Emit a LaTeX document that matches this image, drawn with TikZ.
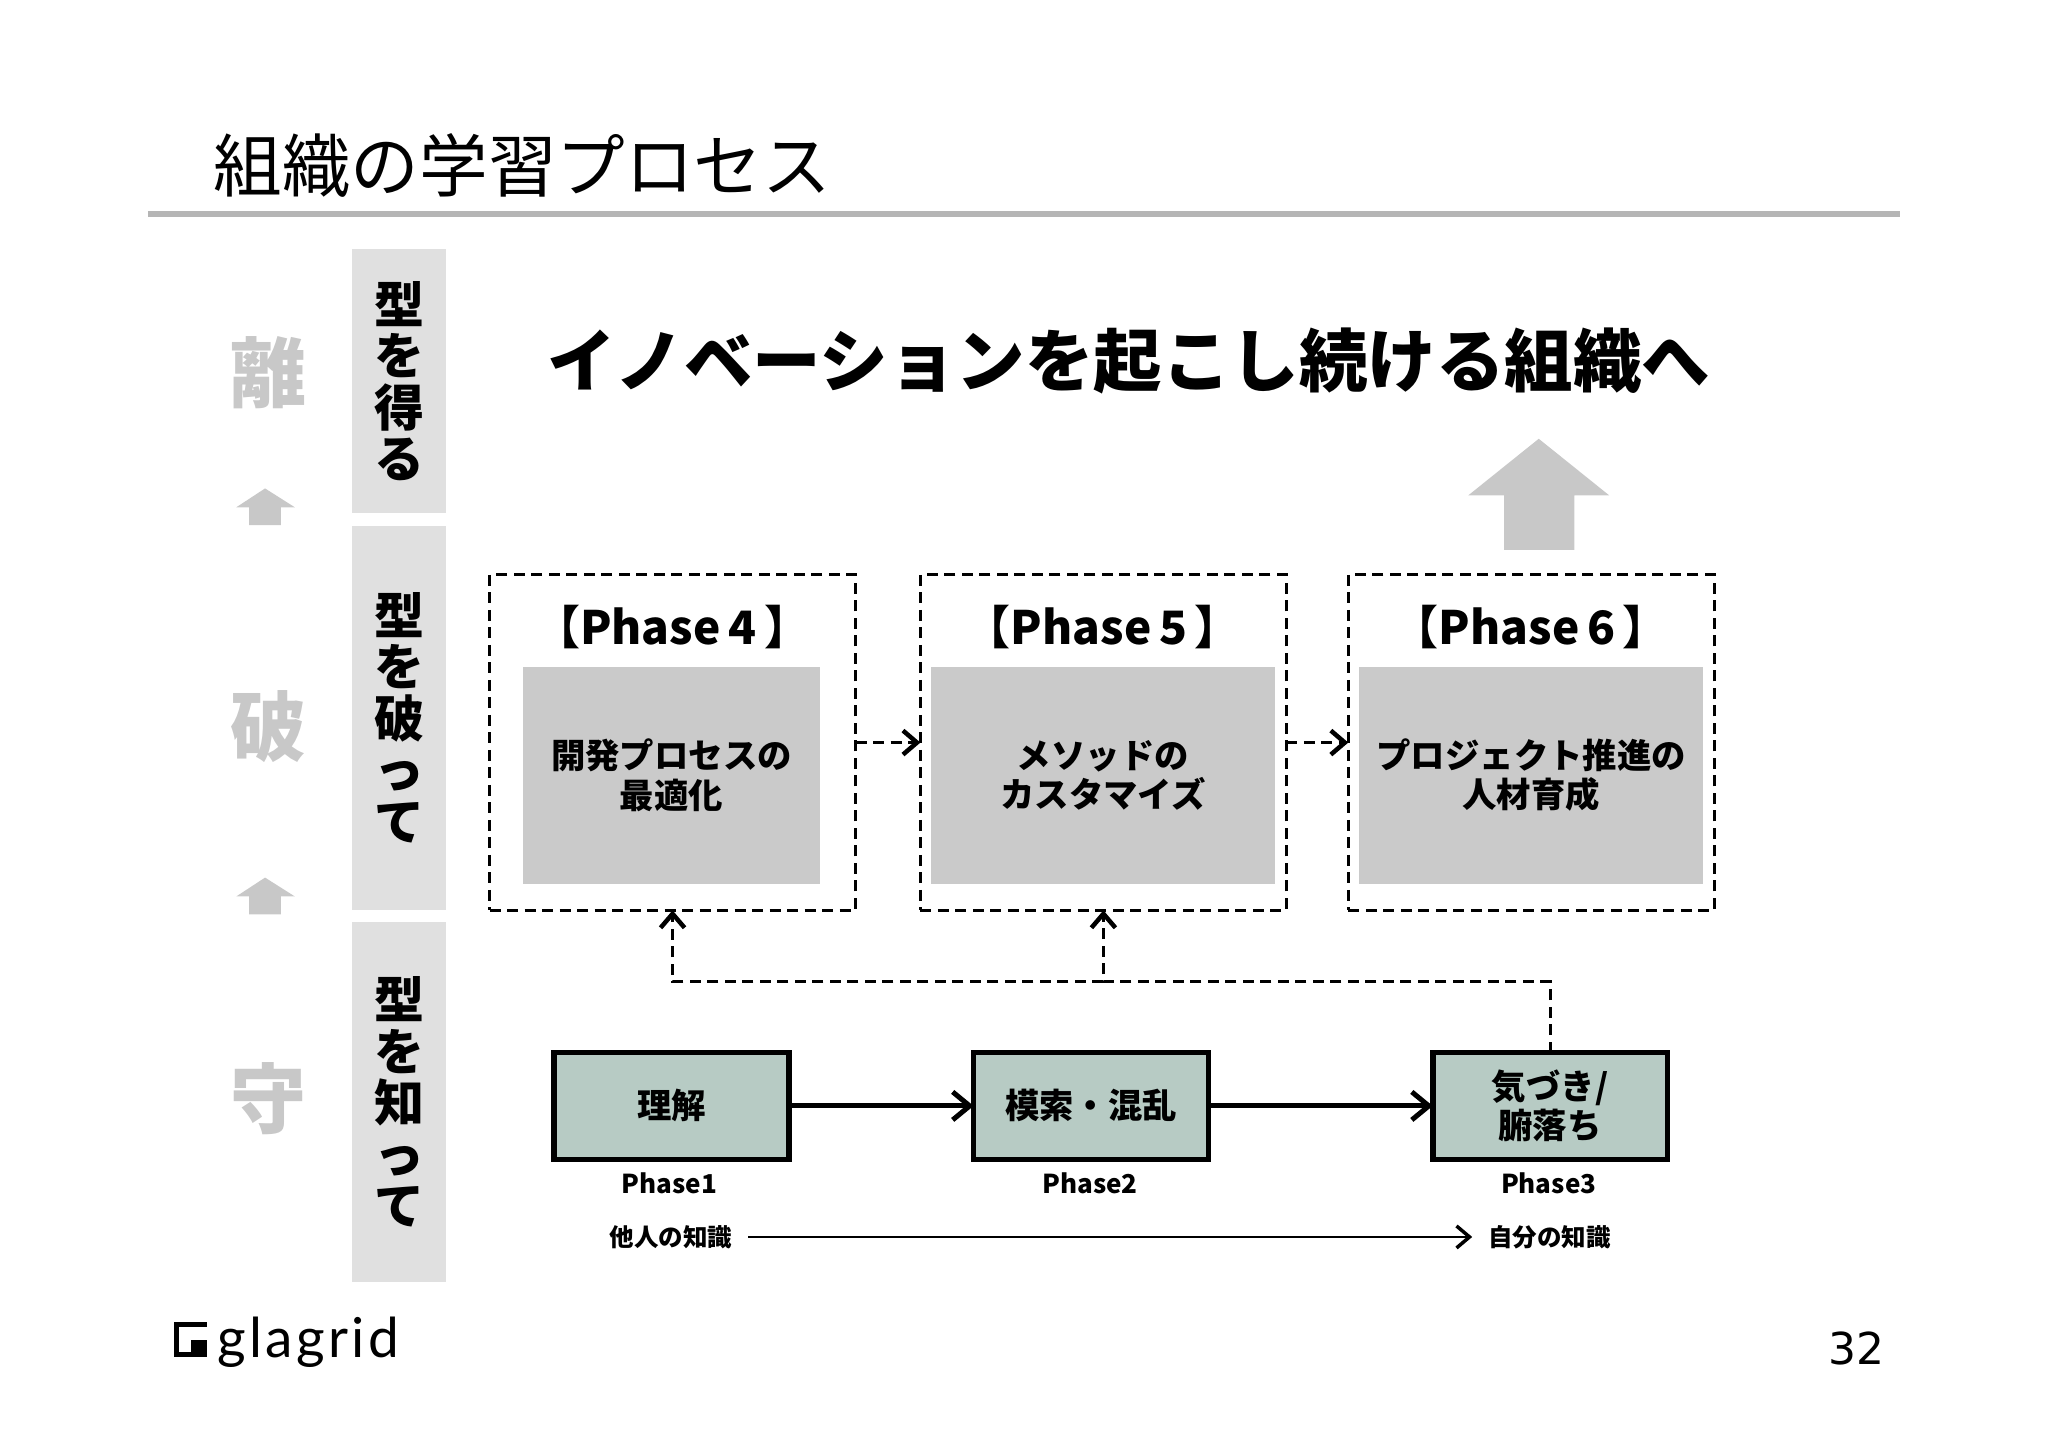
\documentclass[tikz,border=0pt]{standalone}
\usepackage{fontspec}
\setmainfont{Noto Sans CJK JP}
\newfontfamily\numfont{DejaVu Sans}
\newfontfamily\logofont[LetterSpace=6]{Lato}
\usetikzlibrary{arrows.meta}
\definecolor{sidegray}{HTML}{E0E0E0}
\definecolor{boxgray}{HTML}{CACACA}
\definecolor{mintgray}{HTML}{B7CBC4}
\definecolor{rulegray}{HTML}{B5B5B5}
\definecolor{markgray}{HTML}{C8C8C8}
\tikzset{
  side/.style={fill=sidegray,inner sep=0pt,outer sep=0pt,minimum width=94pt,align=center,font=\bfseries\fontsize{50}{51.5}\selectfont},
  stage/.style={text=markgray,inner sep=0pt,font=\bfseries\fontsize{76}{76}\selectfont},
  dashbox/.style={draw,line width=3pt,dash pattern=on 11pt off 6.5pt,inner sep=0pt,outer sep=0pt,minimum height=335.5pt},
  graybox/.style={fill=boxgray,inner sep=0pt,outer sep=0pt,minimum height=217pt,align=center,font=\bfseries\fontsize{34.4}{39.2}\selectfont},
  stepbox/.style={draw,fill=mintgray,line width=5.5pt,inner sep=0pt,outer sep=0pt,minimum width=234.8pt,minimum height=106.8pt,align=center,font=\bfseries\fontsize{34.4}{39.2}\selectfont},
  heading/.style={inner sep=0pt,font=\bfseries\fontsize{46}{46}\selectfont},
  small/.style={inner sep=0pt,font=\bfseries\fontsize{24.5}{24.5}\selectfont},
  stepline/.style={line width=5pt,-{Straight Barb[length=17pt,width=28pt,line width=5pt]}},
  dashline/.style={line width=3pt,dash pattern=on 11pt off 6.5pt,-{Straight Barb[length=14pt,width=24pt,line width=4.5pt]}},
  thinline/.style={line width=2.5pt,-{Straight Barb[length=13pt,width=22pt,line width=3.5pt]}},
  blockarrow/.style={fill=markgray}
}
\begin{document}
\begin{tikzpicture}[x=.9927pt,y=-.9927pt]
  \useasboundingbox (0,0) rectangle (2063,1457.6);
  % title
  \node[anchor=west,inner sep=0pt,font=\fontsize{68.6}{68.6}\selectfont] (title) at (215,167) {組織の学習プロセス};
  \draw[rulegray,line width=6pt] (149,215.5) -- (1914,215.5);
  % left column
  \node[side,minimum height=264pt] (get) at (402,384) {型\\を\\得\\る};
  \node[side,minimum height=384pt] (break) at (402,723) {型\\を\\破\\っ\\て};
  \node[side,minimum height=360.4pt] (know) at (402,1110) {型\\を\\知\\っ\\て};
  \node[stage] (ri) at (270,375) {離};
  \node[stage] (ha) at (270,732) {破};
  \node[stage] (shu) at (270,1107) {守};
  \fill[blockarrow] (267,492) -- (297,511) -- (283,511) -- (283,529) -- (251,529) -- (251,511) -- (238,511) -- cycle;
  \fill[blockarrow] (267,884) -- (297,903) -- (283,903) -- (283,921) -- (251,921) -- (251,903) -- (238,903) -- cycle;
  % goal
  \node[inner sep=0pt,font=\bfseries\fontsize{68.5}{68.5}\selectfont] (goal) at (1137,364) {イノベーションを起こし続ける組織へ};
  \fill[blockarrow] (1550,442) -- (1621,499) -- (1586,499) -- (1586,554) -- (1515,554) -- (1515,499) -- (1479,499) -- cycle;
  % phase 4-6
  \node[dashbox,minimum width=366pt] (p4) at (677.5,748) {};
  \node[dashbox,minimum width=366pt] (p5) at (1111.5,748) {};
  \node[dashbox,minimum width=366pt] (p6) at (1542.5,748) {};
  \node[heading] (h4) at (677,632) {【Phase\,4\,】};
  \node[heading] (h5) at (1111,632) {【Phase\,5\,】};
  \node[heading] (h6) at (1542,632) {【Phase\,6\,】};
  \node[graybox,minimum width=297.5pt] (g4) at (676.5,781) {開発プロセスの\\最適化};
  \node[graybox,minimum width=344.5pt] (g5) at (1111,781) {メソッドの\\カスタマイズ};
  \node[graybox,minimum width=344pt] (g6) at (1542.5,781) {プロジェクト推進の\\人材育成};
  \draw[dashline] (p4) -- (p5);
  \draw[dashline] (p5) -- (p6);
  % phase 1-3
  \node[stepbox] (s1) at (676.5,1114) {理解};
  \node[stepbox] (s2) at (1099,1114) {模索・混乱};
  \node[stepbox] (s3) at (1561.5,1114) {気づき/\\腑落ち};
  \draw[stepline] (s1) -- (s2);
  \draw[stepline] (s2) -- (s3);
  \coordinate (turn) at (1561.5,988.5);
  \draw[dashline] (s3) -- (turn) -- (turn -| p5) -- (p5);
  \draw[dashline] (turn -| p5) -- (turn -| p4) -- (p4);
  \node[small,font=\bfseries\fontsize{26}{26}\selectfont] (l1) at (674.5,1192) {Phase1};
  \node[small,font=\bfseries\fontsize{26}{26}\selectfont] (l2) at (1098,1192) {Phase2};
  \node[small,font=\bfseries\fontsize{26}{26}\selectfont] (l3) at (1560,1192) {Phase3};
  \node[small] (other) at (676,1246) {他人の知識};
  \node[small] (own) at (1561,1246) {自分の知識};
  \draw[thinline] (other.east) ++(16,0) -- (1483,1246);
  % footer
  \fill (175.5,1331.5) rectangle (208.5,1367);
  \fill[white] (180.5,1336.5) rectangle (208.5,1349.5);
  \fill[white] (180.5,1349.5) rectangle (192.5,1361.5);
  \node[anchor=base west,inner sep=0pt,font=\logofont\fontsize{55}{55}\selectfont] (logo) at (219,1367) {glagrid};
  \node[inner sep=0pt,font=\numfont\fontsize{44}{44}\selectfont] (page) at (1870,1358) {32};
\end{tikzpicture}
\end{document}
